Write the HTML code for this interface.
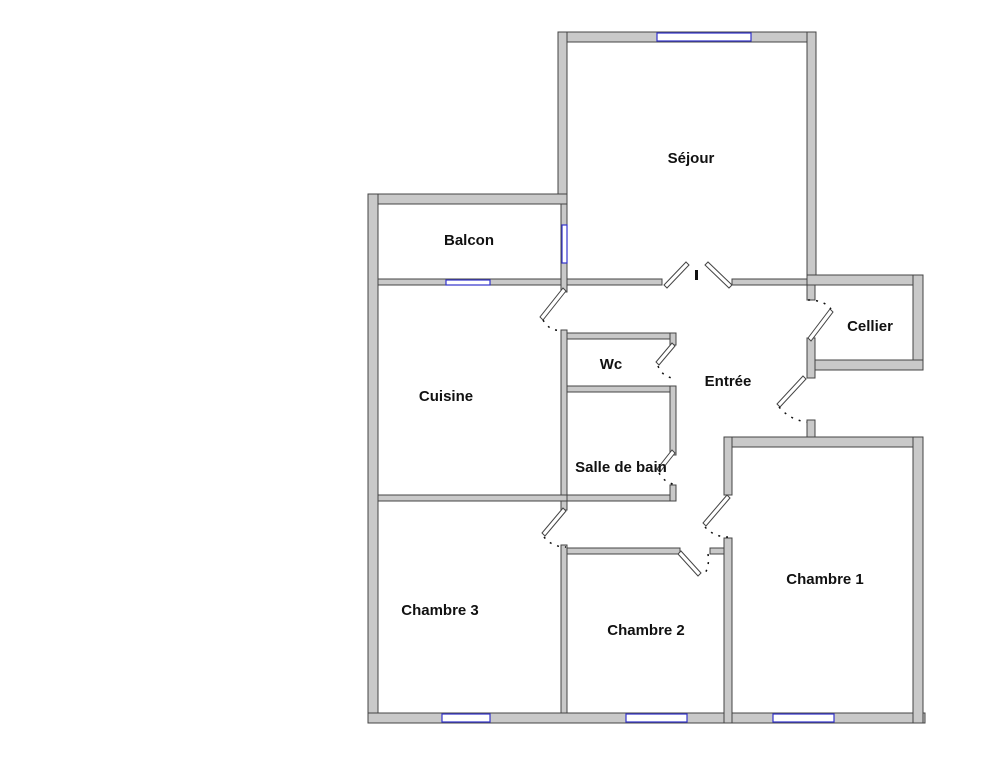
<!DOCTYPE html>
<html><head><meta charset="utf-8"><style>
html,body{margin:0;padding:0;background:#fff;}
svg{display:block}
text{font-family:"Liberation Sans",sans-serif;font-weight:bold;font-size:15px;fill:#111}
.w{fill:#c9c9c9;stroke:#444;stroke-width:1}
.win{fill:#fff;stroke:#3333cc;stroke-width:1.2}
.leaf{fill:#fff;stroke:#444;stroke-width:1}
.d{stroke:#111;stroke-width:1.5;stroke-dasharray:2 6;fill:none}
</style></head><body>
<svg width="983" height="759" viewBox="0 0 983 759" xmlns="http://www.w3.org/2000/svg">
<rect class="w" x="558" y="32" width="258" height="10"/>
<rect class="w" x="558" y="32" width="9" height="172"/>
<rect class="w" x="807" y="32" width="9" height="253"/>
<rect class="w" x="368" y="194" width="199" height="10"/>
<rect class="w" x="368" y="194" width="10" height="529"/>
<rect class="w" x="368" y="713" width="557" height="10"/>
<rect class="w" x="807" y="275" width="116" height="10"/>
<rect class="w" x="913" y="275" width="10" height="95"/>
<rect class="w" x="807" y="360" width="116" height="10"/>
<rect class="w" x="807" y="285" width="8" height="15"/>
<rect class="w" x="807" y="338" width="8" height="40"/>
<rect class="w" x="807" y="420" width="8" height="27"/>
<rect class="w" x="724" y="437" width="199" height="10"/>
<rect class="w" x="913" y="437" width="10" height="286"/>
<rect class="w" x="724" y="437" width="8" height="58"/>
<rect class="w" x="724" y="538" width="8" height="185"/>
<rect class="w" x="378" y="279" width="284" height="6"/>
<rect class="w" x="732" y="279" width="75" height="6"/>
<rect class="w" x="561" y="204" width="6" height="88"/>
<rect class="w" x="561" y="330" width="6" height="180"/>
<rect class="w" x="378" y="495" width="189" height="6"/>
<rect class="w" x="561" y="545" width="6" height="168"/>
<rect class="w" x="567" y="333" width="109" height="6"/>
<rect class="w" x="567" y="386" width="109" height="6"/>
<rect class="w" x="567" y="495" width="109" height="6"/>
<rect class="w" x="670" y="333" width="6" height="12"/>
<rect class="w" x="670" y="386" width="6" height="69"/>
<rect class="w" x="670" y="485" width="6" height="16"/>
<rect class="w" x="567" y="548" width="113" height="6"/>
<rect class="w" x="710" y="548" width="14" height="6"/>
<rect class="win" x="657" y="33" width="94" height="8"/>
<rect class="win" x="446" y="280" width="44" height="5"/>
<rect class="win" x="562" y="225" width="5" height="38"/>
<rect class="win" x="442" y="714" width="48" height="8"/>
<rect class="win" x="626" y="714" width="61" height="8"/>
<rect class="win" x="773" y="714" width="61" height="8"/>
<polygon class="leaf" points="664,285 686,262 689,265 667,288"/>
<polygon class="leaf" points="732,285 708,262 705,265 729,288"/>
<rect x="695" y="270" width="3" height="10" fill="#111"/>
<polygon class="leaf" points="566,291 543,320 540,317 563,288"/>
<path class="d" d="M543,320 Q550,332 562,330"/>
<polygon class="leaf" points="808,338 830,309 833,312 811,341"/>
<path class="d" d="M808,300 Q824,300 831,309"/>
<polygon class="leaf" points="806,379 780,407 777,404 803,376"/>
<path class="d" d="M779,407 Q790,420 807,422"/>
<polygon class="leaf" points="675,346 659,365 656,362 672,343"/>
<path class="d" d="M658,366 Q662,376 672,378"/>
<polygon class="leaf" points="675,453 660,472 657,469 672,450"/>
<path class="d" d="M659,473 Q664,482 673,484"/>
<polygon class="leaf" points="566,511 545,536 542,533 563,508"/>
<path class="d" d="M544,537 Q552,547 566,547"/>
<polygon class="leaf" points="730,498 706,526 703,523 727,495"/>
<path class="d" d="M705,527 Q714,537 728,537"/>
<polygon class="leaf" points="681,551 701,573 698,576 678,554"/>
<path class="d" d="M708,554 Q710,568 703,576"/>
<text x="691" y="163" text-anchor="middle">Séjour</text>
<text x="469" y="245" text-anchor="middle">Balcon</text>
<text x="870" y="331" text-anchor="middle">Cellier</text>
<text x="611" y="369" text-anchor="middle">Wc</text>
<text x="728" y="386" text-anchor="middle">Entrée</text>
<text x="446" y="401" text-anchor="middle">Cuisine</text>
<text x="621" y="472" text-anchor="middle">Salle de bain</text>
<text x="825" y="584" text-anchor="middle">Chambre 1</text>
<text x="646" y="635" text-anchor="middle">Chambre 2</text>
<text x="440" y="615" text-anchor="middle">Chambre 3</text>
</svg>
</body></html>
